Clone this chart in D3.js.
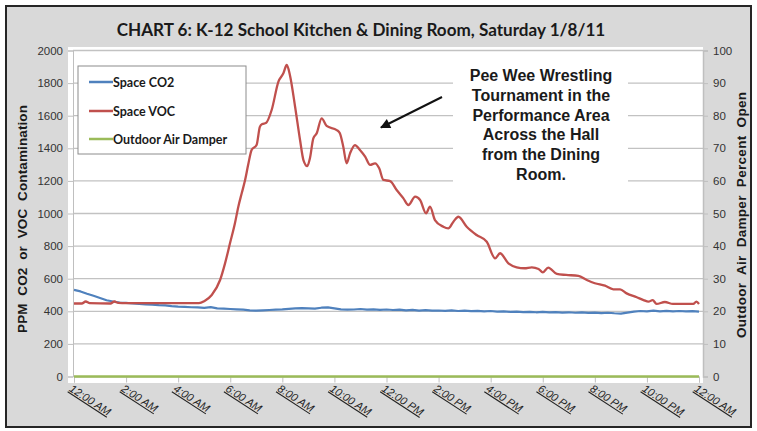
<!DOCTYPE html>
<html><head><meta charset="utf-8">
<script src="https://cdn.jsdelivr.net/npm/d3@7"></script>
<style>
body{margin:0;background:#fff;}
svg{display:block;}
</style></head>
<body>
<svg id="c" width="757" height="431"></svg>
<script>
// ---------- DATA ----------
const title = "CHART 6: K-12 School Kitchen & Dining Room, Saturday 1/8/11";
const seriesNames = ["Space CO2", "Space VOC", "Outdoor Air Damper"];
const seriesColors = ["#4F81BD", "#C0504D", "#9BBB59"];
const xTickHours = [0,2,4,6,8,10,12,14,16,18,20,22,24];
const xTickLabels = ["12:00 AM","2:00 AM","4:00 AM","6:00 AM","8:00 AM","10:00 AM","12:00 PM","2:00 PM","4:00 PM","6:00 PM","8:00 PM","10:00 PM","12:00 AM"];
const leftTicks = [0,200,400,600,800,1000,1200,1400,1600,1800,2000];
const rightTicks = [0,10,20,30,40,50,60,70,80,90,100];
const leftTitle = "PPM  CO2  or  VOC  Contamination";
const rightTitle = "Outdoor  Air  Damper  Percent  Open";
const noteLines = ["Pee Wee Wrestling","Tournament in the","Performance Area","Across the Hall","from the Dining","Room."];

// Space CO2, every 15 minutes from 0h to 24h
const co2Values = [531,522,508,495,482,468,460,454,452,448,446,443,441,438,436,432,
429,427,425,424,421,426,418,416,414,412,410,406,404,406,408,410,
412,415,418,420,418,416,422,424,418,412,410,411,414,410,412,409,
411,408,410,406,409,404,407,404,405,403,406,402,404,401,403,400,
402,398,400,397,398,395,397,394,396,393,395,392,394,391,393,390,
392,389,391,388,386,392,398,402,400,404,399,403,400,402,399,401,398];

// Space VOC (hour of day, ppm)
const vocHours = [0,0.3,0.45,0.6,1.4,1.55,1.7,2.0,4.8,5.0,5.29,5.61,5.8,5.99,6.18,6.31,6.44,6.57,6.69,6.82,7.01,7.14,7.23,7.37,7.59,7.85,8.04,8.17,8.29,8.49,8.68,8.81,8.96,9.06,9.19,9.32,9.51,9.7,10.09,10.21,10.34,10.47,10.6,10.79,10.98,11.18,11.37,11.56,11.72,11.88,12.14,12.39,12.65,12.84,13.1,13.29,13.52,13.67,13.86,14.18,14.37,14.57,14.76,15.08,15.46,15.85,16.17,16.36,16.68,17.0,17.3,17.58,17.84,18.0,18.21,18.54,18.9,19.37,19.69,20.0,20.39,20.71,20.97,21.22,21.61,21.87,22.06,22.22,22.37,22.69,23.0,23.78,23.9,24];
const vocValues = [448,448,460,450,448,460,452,450,450,462,500,592,694,817,940,1042,1124,1205,1300,1390,1420,1533,1549,1555,1635,1809,1860,1911,1850,1655,1451,1328,1291,1339,1461,1492,1584,1537,1512,1492,1410,1308,1369,1420,1390,1349,1298,1308,1277,1206,1199,1144,1093,1052,1103,1083,1001,1042,960,919,909,950,980,919,868,827,725,756,694,670,664,670,660,639,668,629,623,617,592,572,557,535,535,510,486,469,459,469,445,457,445,445,459,445];

// Outdoor air damper percent open
const damperHours = [0,24];
const damperValues = [0,0];

// ---------- CHART ----------
const svg = d3.select("#c");
const x = d3.scaleLinear().domain([0,24]).range([74,699]);
const yL = d3.scaleLinear().domain([0,2000]).range([376.5,50.5]);
const yR = d3.scaleLinear().domain([0,100]).range([376.5,50.5]);
const axisFont = "'Liberation Sans', Arial, sans-serif";

// outer frame
svg.append("rect").attr("x",6).attr("y",6).attr("width",745).attr("height",421)
  .attr("fill","#d9d9d9").attr("stroke","#262626").attr("stroke-width",2);

// plot area
svg.append("rect").attr("x",68).attr("y",47).attr("width",635).attr("height",336).attr("fill","#fff");

// gridlines
svg.append("g").selectAll("line").data(leftTicks.slice(1)).join("line")
  .attr("x1",73).attr("x2",703).attr("y1",d=>yL(d)).attr("y2",d=>yL(d))
  .attr("stroke","#c2c2c2").attr("stroke-width",1.3);

// title
const tt = svg.append("text").attr("x",361).attr("y",36).attr("text-anchor","middle")
  .attr("font-family","Lato, 'Open Sans', sans-serif").attr("font-weight","bold")
  .attr("font-size",17).attr("fill","#1a1a1a").text(title);
{ const w = tt.node().getComputedTextLength(); tt.attr("font-size", 17*489/w); }

// left axis
const gl = svg.append("g").attr("transform","translate(73,0)")
  .call(d3.axisLeft(yL).tickValues(leftTicks).tickFormat(d3.format("d")).tickSize(5).tickPadding(5));
gl.select(".domain").attr("stroke","#bfbfbf");
gl.selectAll(".tick line").attr("stroke","#bfbfbf");
gl.selectAll("text").attr("font-family",axisFont).attr("font-size",11.5).attr("fill","#333");

// right axis
const gr = svg.append("g").attr("transform","translate(703,0)")
  .call(d3.axisRight(yR).tickValues(rightTicks).tickFormat(d3.format("d")).tickSize(5).tickPadding(5));
gr.select(".domain").attr("stroke","#bfbfbf").attr("stroke-width",1.5);
gr.selectAll(".tick line").attr("stroke","#bfbfbf");
gr.selectAll("text").attr("font-family",axisFont).attr("font-size",11.5).attr("fill","#333");

// bottom axis
const gb = svg.append("g").attr("transform","translate(0,376.5)")
  .call(d3.axisBottom(x).tickValues(xTickHours).tickSize(6).tickFormat((d,i)=>xTickLabels[i]));
gb.select(".domain").attr("stroke","#bfbfbf");
gb.selectAll(".tick line").attr("stroke","#bfbfbf");
gb.selectAll(".tick text")
  .attr("text-anchor","start").attr("x",0).attr("y",0).attr("dy",null)
  .attr("transform","translate(-6,14) rotate(33)")
  .attr("font-family",axisFont).attr("font-size",11)
  .attr("font-style","italic").attr("text-decoration","underline").attr("fill","#222");

// axis titles
svg.append("text").attr("transform","translate(27,219) rotate(-90)").attr("text-anchor","middle")
  .attr("font-family",axisFont).attr("font-weight","bold").attr("font-size",13.5)
  .attr("fill","#1a1a1a").attr("textLength",228).attr("lengthAdjust","spacing").style("white-space","pre").text(leftTitle);
svg.append("text").attr("transform","translate(746,215) rotate(-90)").attr("text-anchor","middle")
  .attr("font-family",axisFont).attr("font-weight","bold").attr("font-size",13.5)
  .attr("fill","#1a1a1a").attr("textLength",246).attr("lengthAdjust","spacing").style("white-space","pre").text(rightTitle);

// series lines
const co2Line = d3.line().x((d,i)=>x(i*0.25)).y(d=>yL(d));
svg.append("path").datum(co2Values).attr("d",co2Line).attr("fill","none")
  .attr("stroke",seriesColors[0]).attr("stroke-width",2.2).attr("stroke-linejoin","round");

const vocLine = d3.line().x(d=>x(d[0])).y(d=>yL(d[1])).curve(d3.curveMonotoneX);
svg.append("path").datum(vocHours.map((h,i)=>[h,vocValues[i]])).attr("d",vocLine).attr("fill","none")
  .attr("stroke",seriesColors[1]).attr("stroke-width",2.3).attr("stroke-linejoin","round");

const dampLine = d3.line().x(d=>x(d[0])).y(d=>yR(d[1]));
svg.append("path").datum(damperHours.map((h,i)=>[h,damperValues[i]])).attr("d",dampLine).attr("fill","none")
  .attr("stroke",seriesColors[2]).attr("stroke-width",2.5);

// legend
const lg = svg.append("g");
lg.append("rect").attr("x",78).attr("y",66).attr("width",168).attr("height",88)
  .attr("fill","#fff").attr("stroke","#8c8c8c").attr("stroke-width",1);
const rowsY = [82,111,139];
seriesNames.forEach((n,i)=>{
  lg.append("line").attr("x1",89).attr("x2",113).attr("y1",rowsY[i]).attr("y2",rowsY[i])
    .attr("stroke",seriesColors[i]).attr("stroke-width",2.5);
  lg.append("text").attr("x",113).attr("y",rowsY[i]+4.5)
    .attr("font-family","Lato, 'Open Sans', sans-serif").attr("font-weight","bold").attr("font-size",12.5)
    .attr("fill","#1a1a1a").text(n);
});

// annotation
svg.append("rect").attr("x",453).attr("y",58).attr("width",175).attr("height",126).attr("fill","#fff");
const nt = svg.append("text").attr("text-anchor","middle")
  .attr("font-family",axisFont).attr("font-weight","bold").attr("font-size",16).attr("fill","#1a1a1a");
noteLines.forEach((l,i)=>nt.append("tspan").attr("x",541).attr("y",81+i*19.8).text(l));

// arrow
svg.append("defs").append("marker").attr("id","ah").attr("viewBox","0 0 10 10").attr("refX",9).attr("refY",5)
  .attr("markerWidth",6).attr("markerHeight",5).attr("orient","auto")
  .append("path").attr("d","M0,0L10,5L0,10Z").attr("fill","#111");
svg.append("line").attr("x1",442).attr("y1",97).attr("x2",381).attr("y2",127.5)
  .attr("stroke","#111").attr("stroke-width",2).attr("marker-end","url(#ah)");
</script>
</body></html>
